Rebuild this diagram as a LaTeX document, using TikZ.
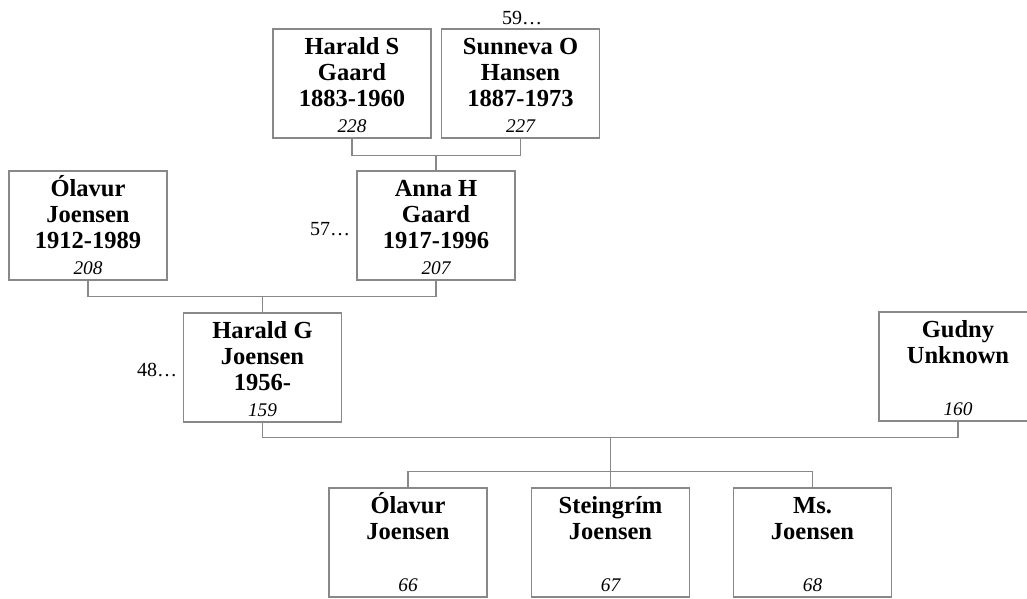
\documentclass[tikz,border=0pt]{standalone}
\usepackage{fontspec}
\setmainfont{Liberation Serif}
\definecolor{boxgray}{RGB}{136,136,136}
% struts for the first and the last line of a box
\newcommand\firstln{\rule{0pt}{16.9pt}}
\newcommand\lastln{\rule[-2.6pt]{0pt}{2.6pt}}
\newcommand\idno[1]{{\fontsize{14.5}{19.5}\selectfont\mdseries\itshape #1}}
\begin{document}
\begin{tikzpicture}[
    x=0.75pt, y=-0.75pt,
    person/.style={draw=boxgray, line width=0.9pt, minimum width=118.5pt,
        minimum height=81.75pt, inner sep=0pt, align=center,
        font=\fontsize{18.4}{19.5}\selectfont\bfseries},
    more/.style={font=\fontsize{15}{18}\selectfont, anchor=base},
    link/.style={draw=boxgray, line width=0.9pt},
]
\useasboundingbox (0,0) rectangle (1027,599);

% --- Grandparents of Harald G ---
\node[person] (hsg) at (352,83.5)
    {\firstln Harald S\\Gaard\\1883-1960\\\idno{228}\lastln};
\node[person] (sog) at (520.5,83.5)
    {\firstln Sunneva O\\Hansen\\1887-1973\\\idno{227}\lastln};
\node[more] (sogup) at (522,25) {59…};

% --- Parents ---
\node[person] (oj) at (88,225.5)
    {\firstln Ólavur\\Joensen\\1912-1989\\\idno{208}\lastln};
\node[person] (ahg) at (436,225.5)
    {\firstln Anna H\\Gaard\\1917-1996\\\idno{207}\lastln};
\node[more] (ahgup) at (330,235) {57…};

% --- Couple ---
\node[person] (hgj) at (262.5,367.5)
    {\firstln Harald G\\Joensen\\1956-\\\idno{159}\lastln};
\node[more] (hgjup) at (157,376) {48…};
\node[person] (gu) at (958,366.5)
    {\firstln Gudny\\Unknown\\~\\\idno{160}\lastln};

% --- Children ---
\node[person] (c1) at (408,542.5)
    {\firstln Ólavur\\Joensen\\~\\\idno{66}\lastln};
\node[person] (c2) at (610.5,542.5)
    {\firstln Steingrím\\Joensen\\~\\\idno{67}\lastln};
\node[person] (c3) at (812.5,542.5)
    {\firstln Ms.\\Joensen\\~\\\idno{68}\lastln};

% --- Links ---
\draw[link] (hsg.south) -- ++(0,17) coordinate (bar1) -| (sog.south);
\draw[link] (ahg.north) -- (ahg.north |- bar1);
\draw[link] (oj.south) -- ++(0,16) coordinate (bar2) -| (ahg.south);
\draw[link] (hgj.north) -- (hgj.north |- bar2);
\draw[link] (hgj.south) -- ++(0,15) coordinate (bar3) -| (gu.south);
\draw[link] (c2.north) -- (c2.north |- bar3);
\draw[link] (c1.north) -- ++(0,-16) -| (c3.north);

\end{tikzpicture}
\end{document}
